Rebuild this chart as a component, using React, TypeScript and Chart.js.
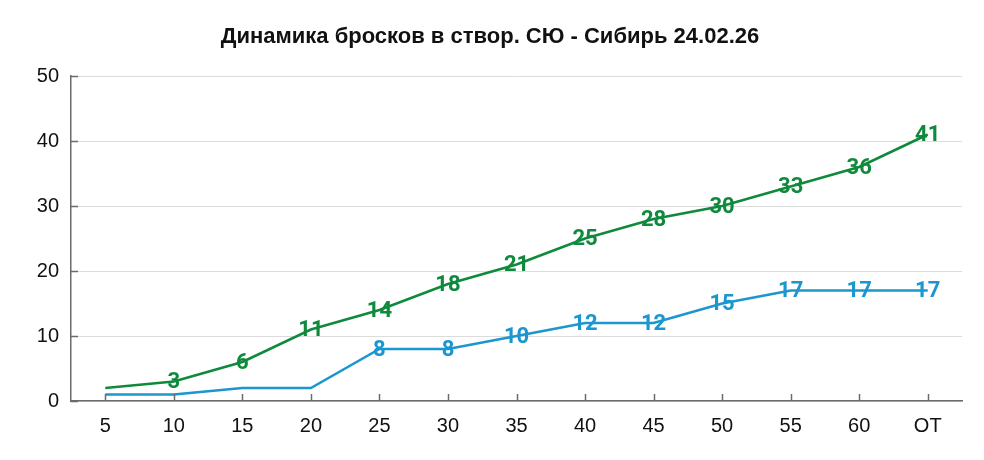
import React, { useEffect, useRef } from "react";
import { Chart, registerables } from "chart.js";

Chart.register(...registerables);

const TITLE = "Динамика бросков в створ. СЮ - Сибирь 24.02.26";
const CATEGORIES = ["5", "10", "15", "20", "25", "30", "35", "40", "45", "50", "55", "60", "OT"];
const SIBIR = [2, 3, 6, 11, 14, 18, 21, 25, 28, 30, 33, 36, 41];
const SYU = [1, 1, 2, 2, 8, 8, 10, 12, 12, 15, 17, 17, 17];
const Y_TICKS = [0, 10, 20, 30, 40, 50];
const LABEL_MIN = 3;

const GREEN = "#0f8a3c";
const BLUE = "#1b96cf";
const AXIS = "#6b6b6b";

const labelsPlugin = {
  id: "valueLabels",
  afterDatasetsDraw(chart: any) {
    const ctx = chart.ctx;
    ctx.save();
    ctx.font = "bold 22px Roboto";
    ctx.textAlign = "center";
    ctx.textBaseline = "middle";
    chart.data.datasets.forEach((ds: any, i: number) => {
      const meta = chart.getDatasetMeta(i);
      ctx.fillStyle = ds.borderColor;
      meta.data.forEach((pt: any, j: number) => {
        const v = ds.data[j];
        if (v < LABEL_MIN) return;
        ctx.fillText(String(v), pt.x, pt.y + 1);
      });
    });
    ctx.restore();
  },
};

const innerTicksPlugin = {
  id: "innerTicks",
  afterDraw(chart: any) {
    const ctx = chart.ctx;
    const x = chart.scales.x;
    const y = chart.scales.y;
    const area = chart.chartArea;
    ctx.save();
    ctx.strokeStyle = AXIS;
    ctx.lineWidth = 1.5;
    ctx.beginPath();
    x.ticks.forEach((_t: any, i: number) => {
      const px = Math.round(x.getPixelForTick(i)) + 0.5;
      ctx.moveTo(px, area.bottom);
      ctx.lineTo(px, area.bottom - 7);
    });
    y.ticks.forEach((_t: any, i: number) => {
      const py = Math.round(y.getPixelForTick(i)) + 0.5;
      ctx.moveTo(area.left, py);
      ctx.lineTo(area.left + 7, py);
    });
    ctx.stroke();
    ctx.restore();
  },
};

export default function App() {
  const ref = useRef<HTMLCanvasElement | null>(null);
  useEffect(() => {
    document.body.style.margin = "0";
    const chart = new Chart(ref.current as HTMLCanvasElement, {
      type: "line",
      data: {
        labels: CATEGORIES,
        datasets: [
          {
            label: "СЮ",
            data: SYU,
            borderColor: BLUE,
            backgroundColor: BLUE,
            borderWidth: 2.5,
            pointRadius: 0,
            tension: 0,
          },
          {
            label: "Сибирь",
            data: SIBIR,
            borderColor: GREEN,
            backgroundColor: GREEN,
            borderWidth: 2.5,
            pointRadius: 0,
            tension: 0,
          },
        ],
      },
      options: {
        animation: false,
        responsive: true,
        maintainAspectRatio: false,
        layout: { padding: { left: 18, right: 22, top: 24, bottom: 9 } },
        plugins: {
          legend: { display: false },
          tooltip: { enabled: false },
          title: {
            display: true,
            text: TITLE,
            color: "#111",
            font: { family: "Liberation Sans", size: 22, weight: "bold" },
            padding: { top: 0, bottom: 25.6 },
          },
        },
        scales: {
          x: {
            offset: true,
            grid: { display: false, drawTicks: false },
            border: { display: true, color: AXIS, width: 1.5 },
            ticks: {
              color: "#111",
              padding: 13,
              font: { family: "Liberation Sans", size: 20 },
              maxRotation: 0,
              autoSkip: false,
            },
          },
          y: {
            min: 0,
            max: 50,
            afterBuildTicks(scale: any) {
              scale.ticks = Y_TICKS.map((v) => ({ value: v }));
            },
            afterFit(scale: any) {
              scale.width = 53;
            },
            grid: { color: "#dcdcdc", lineWidth: 1, drawTicks: false },
            border: { display: true, color: AXIS, width: 1.5 },
            ticks: {
              color: "#111",
              padding: 12,
              font: { family: "Liberation Sans", size: 20 },
            },
          },
        },
      },
      plugins: [innerTicksPlugin, labelsPlugin],
    });
    return () => chart.destroy();
  }, []);
  return (
    <div style={{ position: "fixed", left: 0, top: 0, width: 984, height: 460 }}>
      <canvas ref={ref} />
    </div>
  );
}
